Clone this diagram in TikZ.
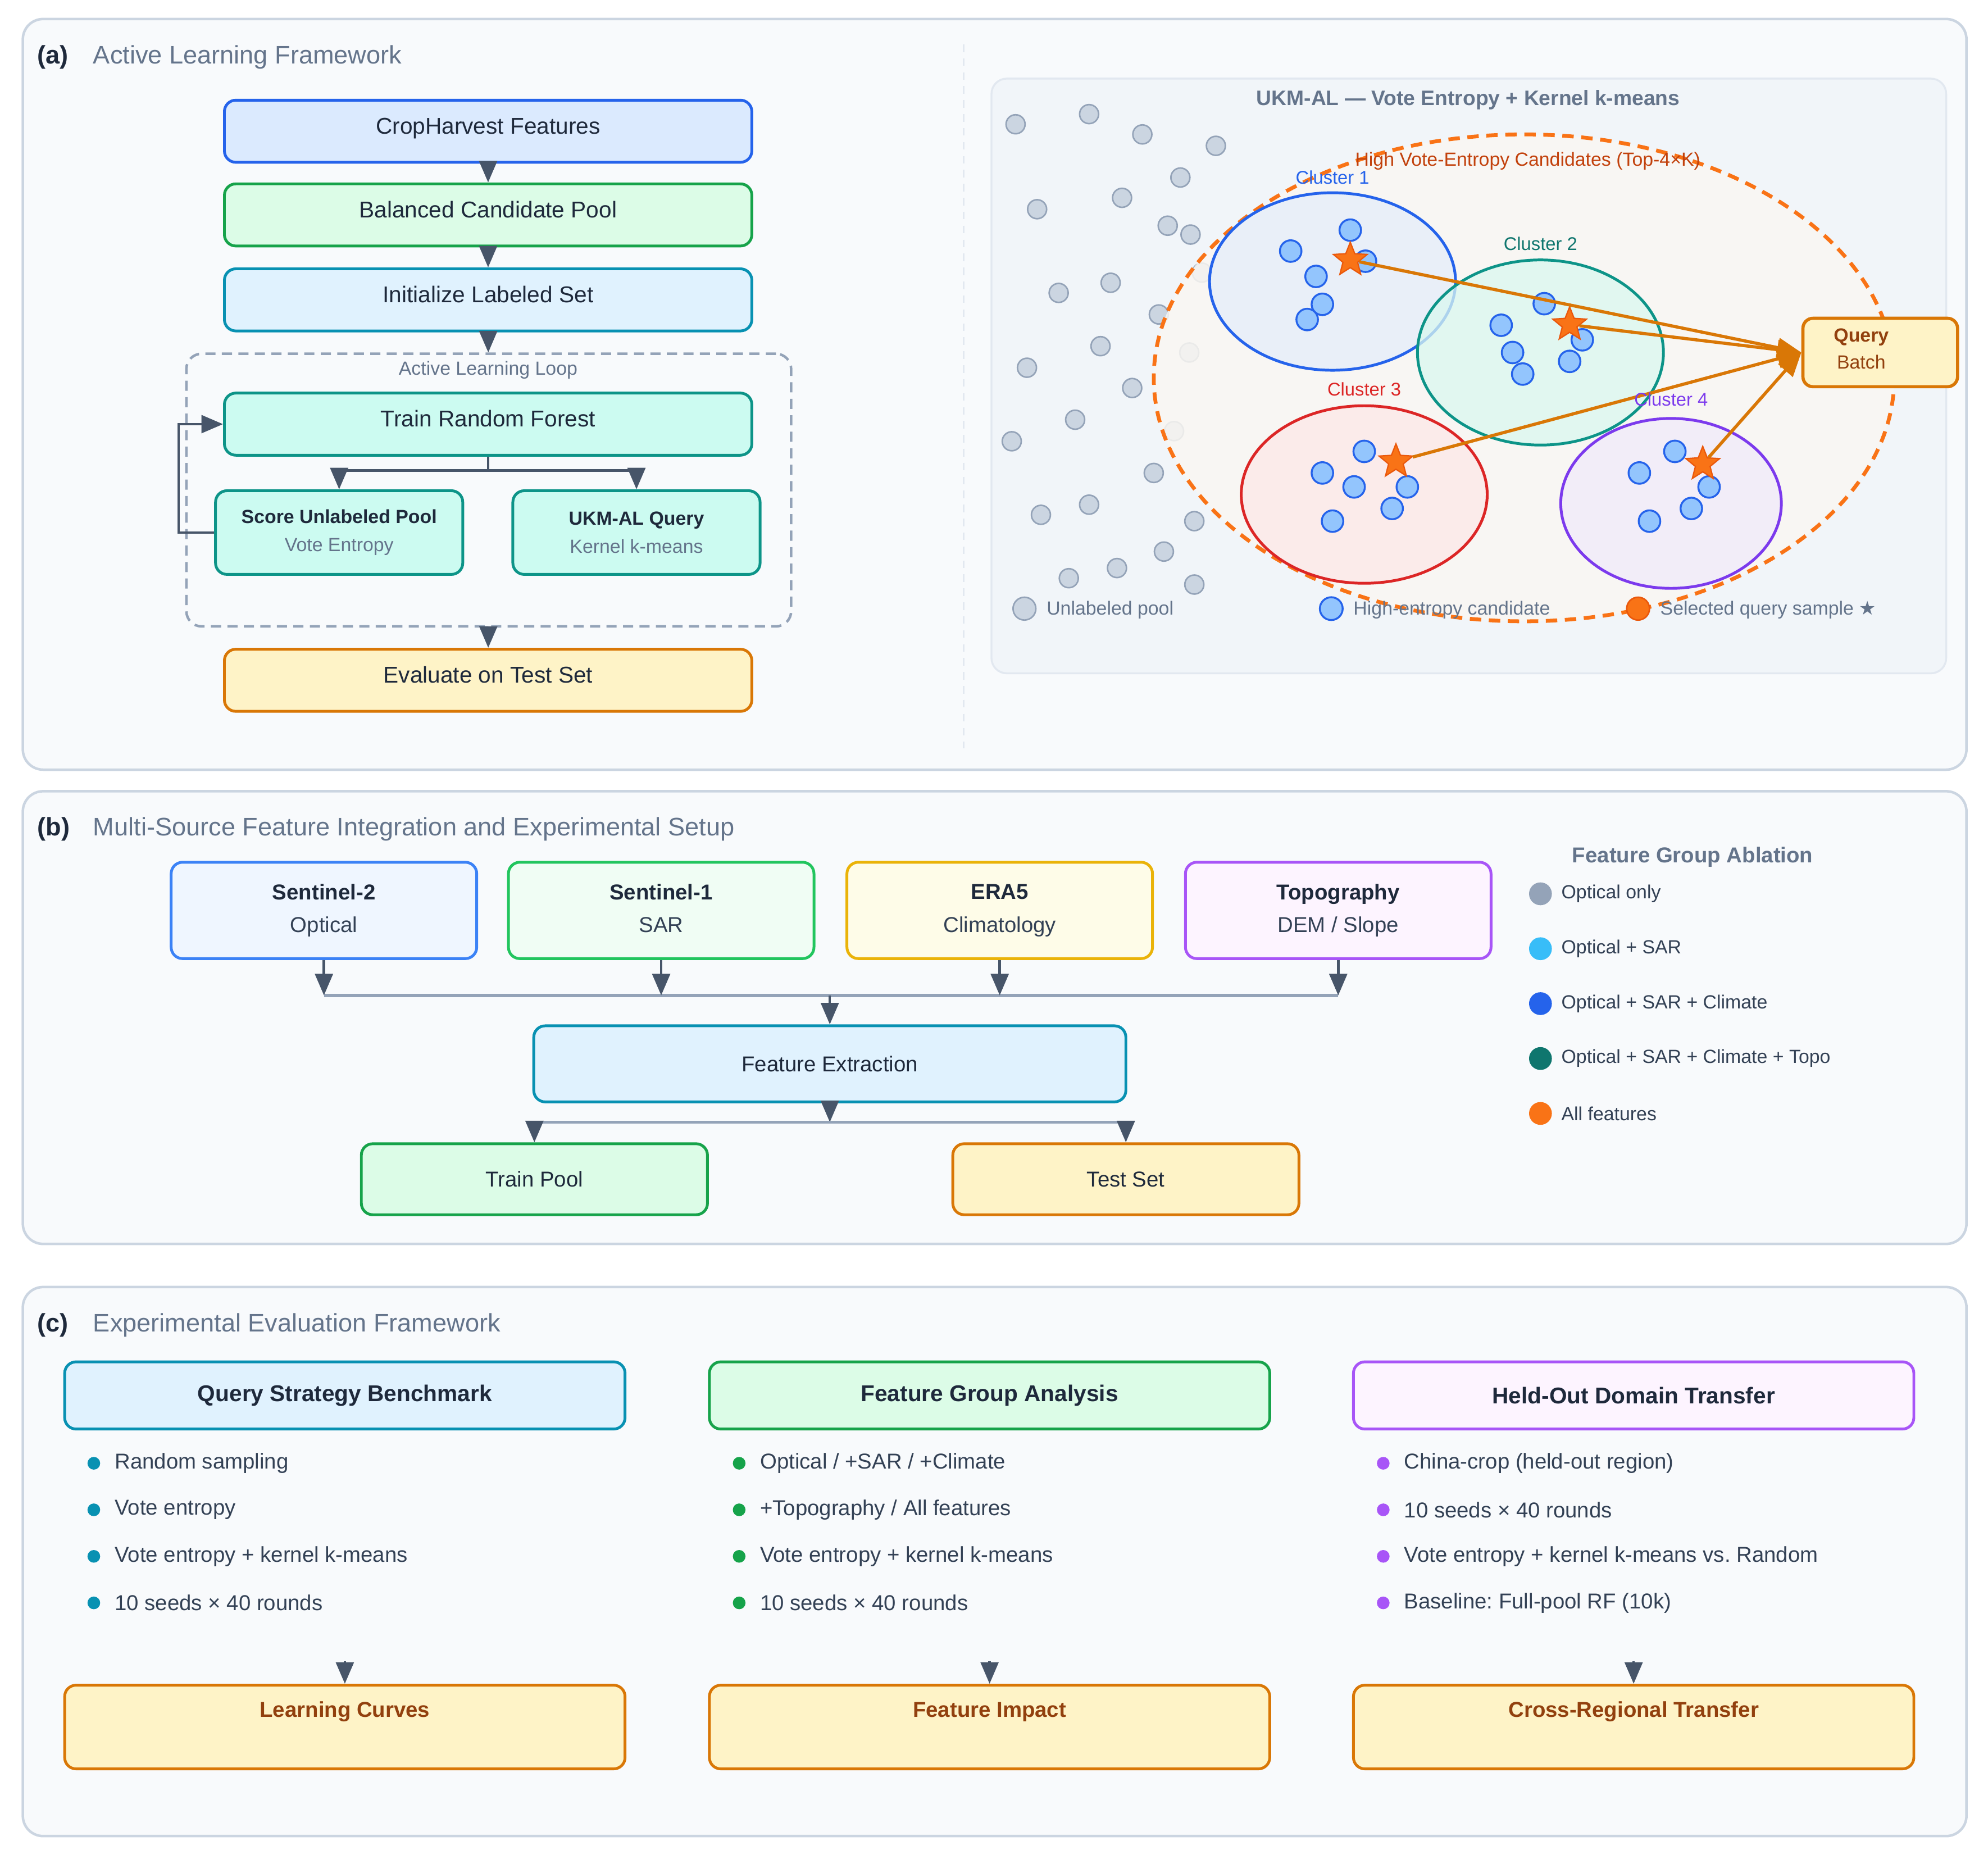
\documentclass[tikz,border=0pt]{standalone}
\usepackage{fontspec}
\setmainfont{Liberation Sans}
\newfontfamily\symfont{DejaVu Sans}
\usetikzlibrary{arrows.meta, shapes.geometric, positioning}
\frenchspacing

\definecolor{panelbg}{HTML}{F8FAFC}
\definecolor{panelline}{HTML}{CBD5E1}
\definecolor{innerbg}{HTML}{F1F5F9}
\definecolor{innerline}{HTML}{E2E8F0}
\definecolor{ink}{HTML}{1E293B}
\definecolor{muted}{HTML}{64748B}
\definecolor{textgray}{HTML}{334155}
\definecolor{arrowc}{HTML}{475569}
\definecolor{busc}{HTML}{94A3B8}
\definecolor{blueL}{HTML}{DBEAFE}   \definecolor{blueD}{HTML}{2563EB}
\definecolor{greenL}{HTML}{DCFCE7}  \definecolor{greenD}{HTML}{16A34A}
\definecolor{cyanL}{HTML}{E0F2FE}   \definecolor{cyanD}{HTML}{0891B2}
\definecolor{tealL}{HTML}{CCFBF1}   \definecolor{tealD}{HTML}{0D9488}
\definecolor{amberL}{HTML}{FEF3C7}  \definecolor{amberD}{HTML}{D97706}
\definecolor{brownT}{HTML}{92400E}
\definecolor{s2L}{HTML}{EFF6FF}     \definecolor{s2D}{HTML}{3B82F6}
\definecolor{s1L}{HTML}{F0FDF4}     \definecolor{s1D}{HTML}{22C55E}
\definecolor{eraL}{HTML}{FEFCE8}    \definecolor{eraD}{HTML}{EAB308}
\definecolor{purpleL}{HTML}{FDF4FF} \definecolor{purpleD}{HTML}{A855F7}
\definecolor{violetD}{HTML}{7C3AED}
\definecolor{redD}{HTML}{DC2626}
\definecolor{tealdk}{HTML}{0F766E}
\definecolor{skyc}{HTML}{38BDF8}
\definecolor{orangeS}{HTML}{F97316}
\definecolor{orangeD}{HTML}{EA580C}
\definecolor{orangeT}{HTML}{C2410C}
\definecolor{candbg}{HTML}{FAF7F2}
\definecolor{poolfill}{HTML}{CBD5E1}
\definecolor{candfill}{HTML}{93C5FD}
\definecolor{c1fill}{HTML}{E4EDFA}
\definecolor{c2fill}{HTML}{DAF8EF}
\definecolor{c3fill}{HTML}{FDE8E8}
\definecolor{c4fill}{HTML}{F0EBFB}

\newcommand\fsz[2]{\fontsize{#1pt}{#2pt}\selectfont}

\tikzset{
  panel/.style={draw=panelline, fill=panelbg, line width=2pt, rounded corners=16pt},
  tone/.style 2 args={fill=#1, draw=#2},
  flowbox/.style={rounded corners=9pt, line width=2.2pt, minimum width=416pt,
    minimum height=49pt, inner sep=0pt, text=ink, font=\fsz{18}{21},
    text height=13pt, text depth=9pt},
  smallbox/.style={rounded corners=9pt, line width=2.2pt, minimum width=195pt,
    minimum height=66pt, inner sep=0pt, align=center, text=muted, font=\fsz{15}{22},
    tone={tealL}{tealD}},
  srcbox/.style={rounded corners=9pt, line width=2.2pt, minimum width=241pt,
    minimum height=76pt, inner sep=0pt, align=center, text=textgray, font=\fsz{17}{26}},
  headbox/.style={rounded corners=9pt, line width=2.2pt, minimum width=442pt,
    minimum height=53pt, inner sep=0pt, text=ink, font=\bfseries\fsz{18}{21}},
  resbox/.style={rounded corners=9pt, line width=2.2pt, minimum width=442pt,
    minimum height=66pt, inner sep=0pt, tone={amberL}{amberD}},
  flowarrow/.style={draw=arrowc, line width=2pt, -{Triangle[length=17pt,width=14pt]}},
  busline/.style={draw=busc, line width=2.5pt},
  ptitle/.style={anchor=west, text=ink, font=\bfseries\fsz{20}{24}},
  psub/.style={anchor=west, text=muted, font=\fsz{20}{24}},
  poolpt/.style={fill=poolfill, draw=busc, line width=1.2pt},
  candpt/.style={fill=candfill, draw=blueD, line width=1.5pt},
  starpt/.style={fill=orangeS, draw=orangeD, line width=1.2pt},
  clus/.style 2 args={draw=#1, line width=2.2pt, fill=#2, fill opacity=0.75},
  qstar/.style={star, star points=5, star point ratio=2.3, minimum size=28pt,
    inner sep=0pt, fill=orangeS, draw=orangeD, line width=1pt},
  qarrow/.style={draw=amberD, line width=2.5pt, -{Triangle[length=19pt,width=15pt]}},
  legtext/.style={anchor=west, text=muted, font=\fsz{15}{18}},
  bullet/.style={anchor=west, text=textgray, font=\fsz{17}{20}}
}

\begin{document}
\begin{tikzpicture}[x=1pt, y=-1pt]
\useasboundingbox (0,0) rectangle (1568,1466);
\fill[white] (0,0) rectangle (1568,1466);

% ---------------- (a)
\draw[panel] (18,15) rectangle (1551,607);
\node[ptitle] (ta) at (26,45) {(a)};
\node[psub] (sa) at (70,45) {Active Learning Framework};
\draw[innerline, line width=1.5pt, dash pattern=on 6pt off 5pt] (760,35) -- (760,590);

\node[flowbox, tone={blueL}{blueD}] (chf) at (385,103.5) {CropHarvest Features};
\node[flowbox, tone={greenL}{greenD}] (bcp) at (385,169.5) {Balanced Candidate Pool};
\node[flowbox, tone={cyanL}{cyanD}] (ils) at (385,236.5) {Initialize Labeled Set};
\node[draw=busc, line width=2pt, dash pattern=on 8pt off 5pt, rounded corners=12pt,
  minimum width=477pt, minimum height=215pt] (loop) at (385.5,386.5) {};
\node[text=muted, font=\fsz{15}{18}] (looplbl) at (385,292) {Active Learning Loop};
\node[flowbox, tone={tealL}{tealD}] (trf) at (385,334.5) {Train Random Forest};
\node[smallbox] (sup) at (267.5,420) {{\bfseries\color{ink}Score Unlabeled Pool}\\Vote Entropy};
\node[smallbox] (ukm) at (502,420) {{\bfseries\color{ink}UKM-AL Query}\\Kernel k-means};
\node[flowbox, tone={amberL}{amberD}] (eval) at (385,536.5) {Evaluate on Test Set};

\draw[flowarrow] (chf) -- (bcp);
\draw[flowarrow] (bcp) -- (ils);
\draw[flowarrow] (ils) -- (loop);
\draw[flowarrow] (loop) -- (eval);
\draw[flowarrow] (trf.south) -- ++(0,11) -| (sup);
\draw[flowarrow] (trf.south) -- ++(0,11) -| (ukm);
\draw[flowarrow] (sup.west) -- ++(-28,0) |- (trf.west);

% UKM-AL sketch
\node[draw=innerline, fill=innerbg, line width=1.5pt, rounded corners=12pt,
  minimum width=753pt, minimum height=469pt] (ukmpanel) at (1158.5,296.5) {};
\node[text=muted, font=\bfseries\fsz{16.5}{20}] (ukmtitle) at (1158,79)
  {UKM-AL — Vote Entropy + Kernel k-means};

\foreach \px/\py in {801/98, 859/90, 901/106, 959/115, 931/140, 818/165, 885/156,
  921/178, 939/185, 835/231, 876/223, 914/248, 868/273, 810/290, 893/306, 848/331,
  798/348, 910/373, 859/398, 821/406, 942/411, 918/435, 881/448, 843/456, 942/461,
  948/215, 938/278, 926/340}
  \draw[poolpt] (\px,\py) circle (7.5pt);

\draw[draw=orangeS, fill=candbg, fill opacity=0.85, line width=3pt,
  dash pattern=on 9pt off 6pt] (1202,298) ellipse [x radius=292pt, y radius=192pt];

\draw[clus={blueD}{c1fill}] (1051,222) ellipse [x radius=97pt, y radius=70pt];
\draw[clus={tealD}{c2fill}] (1215,278) ellipse [x radius=97pt, y radius=73pt];
\draw[clus={redD}{c3fill}] (1076,390) ellipse [x radius=97pt, y radius=70pt];
\draw[clus={violetD}{c4fill}] (1318,397) ellipse [x radius=87pt, y radius=67pt];

\foreach \px/\py in {1018/198, 1065/181.5, 1038/218, 1043/240, 1031/252, 1077/206,
  1218/239.5, 1184/256.5, 1248/268, 1193/278, 1201/295, 1238/285,
  1076/356, 1043/373, 1068/384, 1110/384, 1098/401, 1051/411,
  1321/356, 1293/373, 1348/384, 1334/401, 1301/411}
  \draw[candpt] (\px,\py) circle (8.5pt);

\node[rounded corners=8pt, line width=2.5pt, tone={amberL}{amberD}, minimum width=122pt,
  minimum height=54pt] (qb) at (1483,278) {};
\node[text=brownT, align=center, font=\fsz{15}{21}] (qbtext) at (1468,275)
  {\textbf{Query}\\Batch};

\node[qstar] (s1) at (1065,205) {};
\node[qstar] (s2) at (1238,256) {};
\node[qstar] (s3) at (1101,364) {};
\node[qstar] (s4) at (1343,366) {};
\draw[qarrow] (s1) -- (qb.west);
\draw[qarrow] (s2) -- (qb.west);
\draw[qarrow] (s3) -- (qb.west);
\draw[qarrow] (s4) -- (qb.west);

\node[text=orangeT, font=\fsz{15}{18}] (candlbl) at (1205,127)
  {High Vote-Entropy Candidates (Top-4×K)};
\node[text=blueD, font=\fsz{14.5}{17}] (c1lbl) at (1051,140) {Cluster 1};
\node[text=tealdk, font=\fsz{14.5}{17}] (c2lbl) at (1215,192) {Cluster 2};
\node[text=redD, font=\fsz{14.5}{17}] (c3lbl) at (1076,307) {Cluster 3};
\node[text=violetD, font=\fsz{14.5}{17}] (c4lbl) at (1318,315) {Cluster 4};

\draw[poolpt] (808,480) circle (9pt);
\node[legtext] (lg1) at (822,481) {Unlabeled pool};
\draw[candpt] (1050,480) circle (9pt);
\node[legtext] (lg2) at (1064,481) {High-entropy candidate};
\draw[starpt] (1292,480) circle (9pt);
\node[legtext] (lg3) at (1306,481) {Selected query sample {\symfont ★}};

% ---------------- (b)
\draw[panel] (18,624) rectangle (1551,981);
\node[ptitle] (tb) at (26,654) {(b)};
\node[psub] (sb) at (70,654) {Multi-Source Feature Integration and Experimental Setup};

\node[srcbox, tone={s2L}{s2D}] (sen2) at (255.5,718) {\textbf{\color{ink}Sentinel-2}\\Optical};
\node[srcbox, tone={s1L}{s1D}] (sen1) at (521.5,718) {\textbf{\color{ink}Sentinel-1}\\SAR\vphantom{p}};
\node[srcbox, tone={eraL}{eraD}] (era) at (788.5,718) {\textbf{\color{ink}ERA5}\\Climatology};
\node[srcbox, tone={purpleL}{purpleD}] (topo) at (1055.5,718) {\textbf{\color{ink}Topography}\\DEM / Slope};

\coordinate (busL) at (255.5,785);
\coordinate (busR) at (1055.5,785);
\coordinate (busM) at (654.5,785);
\draw[busline] (busL) -- (busR);
\foreach \src in {sen2, sen1, era, topo}
  \draw[flowarrow] (\src) -- (\src |- busL);

\node[rounded corners=9pt, line width=2.2pt, tone={cyanL}{cyanD}, minimum width=467pt,
  minimum height=60pt, text=ink, font=\fsz{17}{20}] (fex) at (654.5,839) {Feature Extraction};
\draw[flowarrow] (busM) -- (fex);

\node[rounded corners=9pt, line width=2.2pt, tone={greenL}{greenD}, minimum width=273pt,
  minimum height=56pt, text=ink, font=\fsz{17}{20}] (trp) at (421.5,930) {Train Pool};
\node[rounded corners=9pt, line width=2.2pt, tone={amberL}{amberD}, minimum width=273pt,
  minimum height=56pt, text=ink, font=\fsz{17}{20}] (tst) at (888,930) {Test Set};

\coordinate (splitM) at (654.5,885);
\draw[flowarrow] (fex) -- (splitM);
\draw[busline] (trp |- splitM) -- (tst |- splitM);
\draw[flowarrow] (trp |- splitM) -- (trp);
\draw[flowarrow] (tst |- splitM) -- (tst);

\node[text=muted, font=\bfseries\fsz{17}{20}] (ablt) at (1335,676) {Feature Group Ablation};
\foreach \c/\t [count=\i] in {busc/Optical only, skyc/Optical + SAR,
  blueD/Optical + SAR + Climate, tealdk/Optical + SAR + Climate + Topo, orangeS/All features}{
  \fill[\c] (1215,{661.6+43.3*\i}) circle (9pt);
  \node[anchor=west, text=textgray, font=\fsz{15}{18}] (abl\i) at (1228,{661.6+43.3*\i}) {\t};
}

% ---------------- (c)
\draw[panel] (18,1015) rectangle (1551,1448);
\node[ptitle] (tc) at (26,1045) {(c)};
\node[psub] (sc) at (70,1045) {Experimental Evaluation Framework};

\node[headbox, tone={cyanL}{cyanD}] (qsb) at (272,1100.5) {Query Strategy Benchmark};
\node[headbox, tone={greenL}{greenD}] (fga) at (780.5,1100.5) {Feature Group Analysis};
\node[headbox, tone={purpleL}{purpleD}] (hdt) at (1288.5,1100.5) {Held-Out Domain Transfer};

\foreach \t [count=\i] in {Random sampling, Vote entropy, Vote entropy + kernel k-means,
  10 seeds × 40 rounds}{
  \fill[cyanD] (74,{1117.3+36.7*\i}) circle (5pt);
  \node[bullet] (qs\i) at (87,{1117.3+36.7*\i}) {\t};
}
\foreach \t [count=\i] in {Optical / +SAR / +Climate, +Topography / All features,
  Vote entropy + kernel k-means, 10 seeds × 40 rounds}{
  \fill[greenD] (583,{1117.3+36.7*\i}) circle (5pt);
  \node[bullet] (fg\i) at (596,{1117.3+36.7*\i}) {\t};
}
\foreach \t [count=\i] in {China-crop (held-out region), 10 seeds × 40 rounds,
  Vote entropy + kernel k-means vs. Random, Baseline: Full-pool RF (10k)}{
  \fill[purpleD] (1091,{1117.3+36.7*\i}) circle (5pt);
  \node[bullet] (hd\i) at (1104,{1117.3+36.7*\i}) {\t};
}

\node[resbox] (lc) at (272,1362) {};
\node[resbox] (fi) at (780.5,1362) {};
\node[resbox] (crt) at (1288.5,1362) {};
\node[text=brownT, font=\bfseries\fsz{17}{20}] (lctext) at (272,1350) {Learning Curves};
\node[text=brownT, font=\bfseries\fsz{17}{20}] (fitext) at (780.5,1350) {Feature Impact};
\node[text=brownT, font=\bfseries\fsz{17}{20}] (crttext) at (1288.5,1350) {Cross-Regional Transfer};

\coordinate (lcin) at (272,1310);
\coordinate (fiin) at (780.5,1310);
\coordinate (crtin) at (1288.5,1310);
\draw[flowarrow] (lcin) -- (lc);
\draw[flowarrow] (fiin) -- (fi);
\draw[flowarrow] (crtin) -- (crt);
\end{tikzpicture}
\end{document}
